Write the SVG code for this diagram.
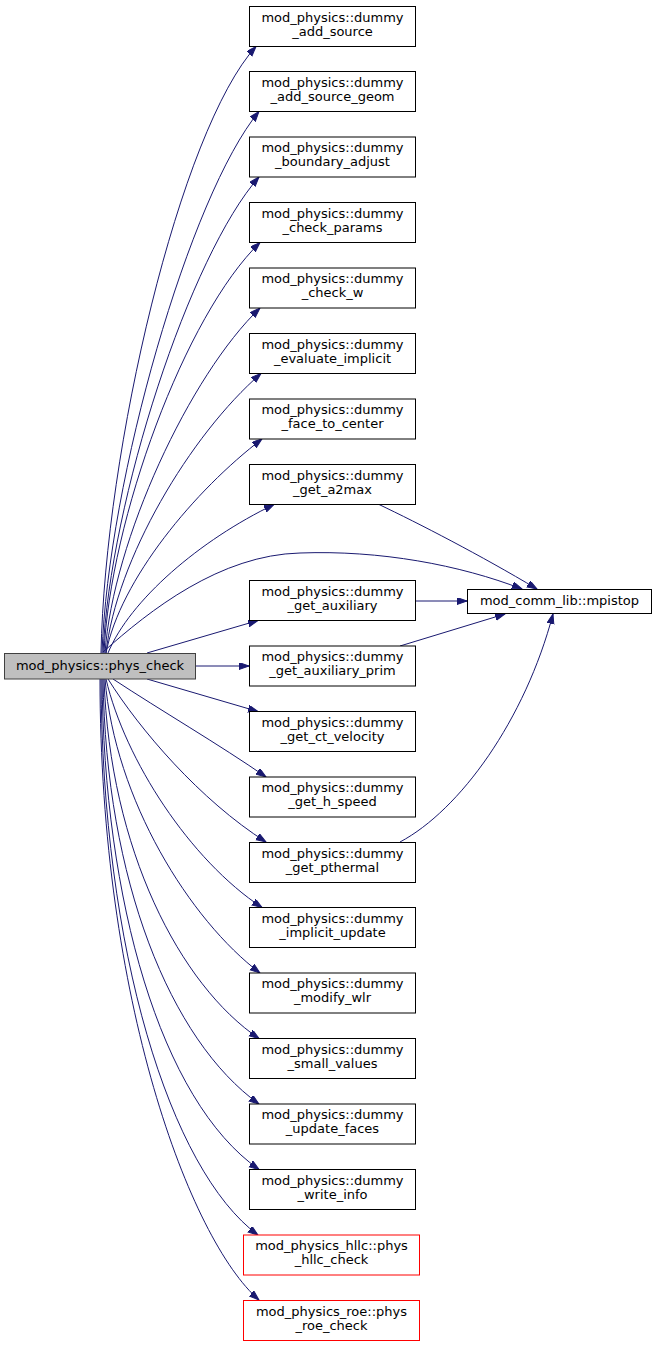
<svg xmlns="http://www.w3.org/2000/svg" width="656" height="1345" viewBox="0 0 656 1345">
<style>
.n rect{fill:#ffffff;stroke:#000000;stroke-width:1}
.n.r rect{stroke:#ff0000}
.n.root rect{fill:#bfbfbf;stroke:#404040}
.n text{font-family:"DejaVu Sans","Liberation Sans",sans-serif;font-size:13px;fill:#000000;text-anchor:middle}
.e path{fill:none;stroke:#191970;stroke-width:1;marker-end:url(#ah)}
</style>
<defs>
<marker id="ah" markerUnits="userSpaceOnUse" markerWidth="11" markerHeight="8" refX="10" refY="3.5" orient="auto">
<path d="M0,0 L10,3.5 L0,7 Z" fill="#191970" stroke="#191970" stroke-width="1"/>
</marker>
</defs>
<rect width="656" height="1345" fill="#ffffff"/>
<g id="edges" class="e">
<path d="M101,653 C105,450 180,130 256,46.5"/>
<path d="M102,653 C108,480 190,195 259,111.5"/>
<path d="M103,653 C110,500 190,255 259,177"/>
<path d="M104,653 C110,520 185,315 260,242.5"/>
<path d="M105,653 C113,540 190,375 260,308"/>
<path d="M106,653 C116,560 190,435 261,373.5"/>
<path d="M106,653 C120,580 195,490 262,439"/>
<path d="M108,653 C130,600 200,540 274,504.5"/>
<path d="M103,652 C150,610 220,555 300,553 C380,550 460,565 522,589"/>
<path d="M147,653 L258,620.5"/>
<path d="M196,666 L249,666"/>
<path d="M147,679 L258,711.5"/>
<path d="M113,679 C160,710 220,745 266,777"/>
<path d="M108,679 C140,730 200,800 266,842"/>
<path d="M106,679 C125,760 190,860 262,907.5"/>
<path d="M105,679 C115,800 190,920 260,973"/>
<path d="M104,679 C110,850 180,985 259,1038.5"/>
<path d="M103,679 C106,880 170,1040 259,1104"/>
<path d="M102,679 C104,900 160,1100 259,1169.5"/>
<path d="M101,679 C102,950 170,1170 258,1235"/>
<path d="M100,679 C100,1000 190,1240 259,1300"/>
<path d="M378,504 C420,524 480,555 537,589"/>
<path d="M415,601 L467,601"/>
<path d="M400,646 L505,614"/>
<path d="M400,842 C460,810 525,720 553,614"/>
</g>
<g id="phys_check" class="n root"><rect x="4.5" y="653.5" width="191" height="25.5"/><text x="100" y="670">mod_physics::phys_check</text></g>
<g id="mpistop" class="n"><rect x="467.5" y="589.5" width="184" height="24"/><text x="559.5" y="605">mod_comm_lib::mpistop</text></g>
<g id="dummy_add_source" class="n"><rect x="249.5" y="6.5" width="166" height="40"/><text x="332.5" y="21.5">mod_physics::dummy</text><text x="332.5" y="35.5">_add_source</text></g>
<g id="dummy_add_source_geom" class="n"><rect x="249.5" y="71.5" width="166" height="40"/><text x="332.5" y="86.5">mod_physics::dummy</text><text x="332.5" y="100.5">_add_source_geom</text></g>
<g id="dummy_boundary_adjust" class="n"><rect x="249.5" y="137" width="166" height="40"/><text x="332.5" y="152">mod_physics::dummy</text><text x="332.5" y="166">_boundary_adjust</text></g>
<g id="dummy_check_params" class="n"><rect x="249.5" y="202.5" width="166" height="40"/><text x="332.5" y="217.5">mod_physics::dummy</text><text x="332.5" y="231.5">_check_params</text></g>
<g id="dummy_check_w" class="n"><rect x="249.5" y="268" width="166" height="40"/><text x="332.5" y="283">mod_physics::dummy</text><text x="332.5" y="297">_check_w</text></g>
<g id="dummy_evaluate_implicit" class="n"><rect x="249.5" y="333.5" width="166" height="40"/><text x="332.5" y="348.5">mod_physics::dummy</text><text x="332.5" y="362.5">_evaluate_implicit</text></g>
<g id="dummy_face_to_center" class="n"><rect x="249.5" y="399" width="166" height="40"/><text x="332.5" y="414">mod_physics::dummy</text><text x="332.5" y="428">_face_to_center</text></g>
<g id="dummy_get_a2max" class="n"><rect x="249.5" y="464.5" width="166" height="40"/><text x="332.5" y="479.5">mod_physics::dummy</text><text x="332.5" y="493.5">_get_a2max</text></g>
<g id="dummy_get_auxiliary" class="n"><rect x="249.5" y="580.5" width="166" height="40"/><text x="332.5" y="595.5">mod_physics::dummy</text><text x="332.5" y="609.5">_get_auxiliary</text></g>
<g id="dummy_get_auxiliary_prim" class="n"><rect x="249.5" y="646" width="166" height="40"/><text x="332.5" y="661">mod_physics::dummy</text><text x="332.5" y="675">_get_auxiliary_prim</text></g>
<g id="dummy_get_ct_velocity" class="n"><rect x="249.5" y="711.5" width="166" height="40"/><text x="332.5" y="726.5">mod_physics::dummy</text><text x="332.5" y="740.5">_get_ct_velocity</text></g>
<g id="dummy_get_h_speed" class="n"><rect x="249.5" y="777" width="166" height="40"/><text x="332.5" y="792">mod_physics::dummy</text><text x="332.5" y="806">_get_h_speed</text></g>
<g id="dummy_get_pthermal" class="n"><rect x="249.5" y="842.5" width="166" height="40"/><text x="332.5" y="857.5">mod_physics::dummy</text><text x="332.5" y="871.5">_get_pthermal</text></g>
<g id="dummy_implicit_update" class="n"><rect x="249.5" y="907.5" width="166" height="40"/><text x="332.5" y="922.5">mod_physics::dummy</text><text x="332.5" y="936.5">_implicit_update</text></g>
<g id="dummy_modify_wlr" class="n"><rect x="249.5" y="973" width="166" height="40"/><text x="332.5" y="988">mod_physics::dummy</text><text x="332.5" y="1002">_modify_wlr</text></g>
<g id="dummy_small_values" class="n"><rect x="249.5" y="1038.5" width="166" height="40"/><text x="332.5" y="1053.5">mod_physics::dummy</text><text x="332.5" y="1067.5">_small_values</text></g>
<g id="dummy_update_faces" class="n"><rect x="249.5" y="1104" width="166" height="40"/><text x="332.5" y="1119">mod_physics::dummy</text><text x="332.5" y="1133">_update_faces</text></g>
<g id="dummy_write_info" class="n"><rect x="249.5" y="1169.5" width="166" height="40"/><text x="332.5" y="1184.5">mod_physics::dummy</text><text x="332.5" y="1198.5">_write_info</text></g>
<g id="phys_hllc_check" class="n r"><rect x="243.5" y="1235" width="176" height="40"/><text x="331.5" y="1250">mod_physics_hllc::phys</text><text x="331.5" y="1264">_hllc_check</text></g>
<g id="phys_roe_check" class="n r"><rect x="243.5" y="1300.5" width="176" height="40"/><text x="331.5" y="1315.5">mod_physics_roe::phys</text><text x="331.5" y="1329.5">_roe_check</text></g>
</svg>
